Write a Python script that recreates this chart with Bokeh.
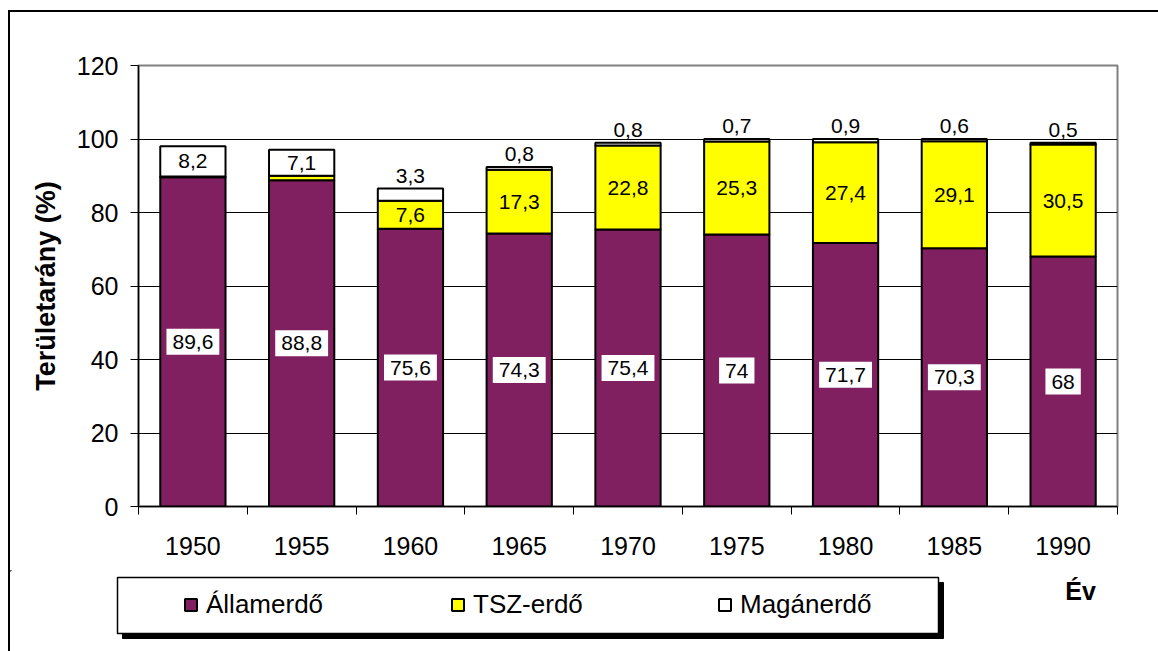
from bokeh.plotting import figure
from bokeh.layouts import column
from bokeh.models import (ColumnDataSource, FixedTicker, Legend, LegendItem, LabelSet,
                          Range1d)
from bokeh.core.properties import value
from bokeh.embed import file_html
from bokeh.resources import INLINE

# ---- data ----
years = ["1950", "1955", "1960", "1965", "1970", "1975", "1980", "1985", "1990"]
allam = [89.6, 88.8, 75.6, 74.3, 75.4, 74, 71.7, 70.3, 68]
tsz = [0.2, 1.2, 7.6, 17.3, 22.8, 25.3, 27.4, 29.1, 30.5]
magan = [8.2, 7.1, 3.3, 0.8, 0.8, 0.7, 0.9, 0.6, 0.5]
series_names = ["Államerdő", "TSZ-erdő", "Magánerdő"]
y_ticks = [0, 20, 40, 60, 80, 100, 120]

FONT = "Liberation Sans"
PURPLE = "#802060"
YELLOW = "#FFFF00"
WHITE = "#FFFFFF"
COLORS = [PURPLE, YELLOW, WHITE]


def fmt(v):
    return f"{v:g}".replace(".", ",")


x = [i + 0.5 for i in range(len(years))]
src = ColumnDataSource(dict(x=x, allam=allam, tsz=tsz, magan=magan))

# ---------------- main chart ----------------
p = figure(width=1148, height=558, output_backend="svg", toolbar_location=None,
           x_range=Range1d(0, len(years)), y_range=Range1d(0, 120),
           min_border_left=128, min_border_right=41, min_border_top=53,
           min_border_bottom=64)
p.frame_align = False
p.background_fill_color = "white"
p.border_fill_color = "white"
p.outline_line_color = "#808080"
p.outline_line_width = 2

renderers = p.vbar_stack(["allam", "tsz", "magan"], x="x", width=0.6, source=src,
                         fill_color=COLORS, line_color="black", line_width=2)

p.xaxis.ticker = FixedTicker(ticks=x, minor_ticks=list(range(len(years) + 1)))
p.xaxis.major_label_overrides = {xi: y for xi, y in zip(x, years)}
p.xaxis.major_tick_out = 0
p.xaxis.major_tick_in = 0
p.xaxis.minor_tick_out = 8
p.xaxis.minor_tick_in = 0
p.xaxis.minor_tick_line_color = "black"
p.xaxis.major_label_standoff = 22
p.xaxis.major_label_text_font = FONT
p.xaxis.major_label_text_font_size = "25px"
p.xaxis.major_label_text_color = "black"
p.xaxis.axis_line_color = "black"
p.xaxis.axis_line_width = 1.5

p.yaxis.ticker = FixedTicker(ticks=y_ticks)
p.yaxis.major_tick_out = 8
p.yaxis.major_tick_in = 0
p.yaxis.minor_tick_line_color = None
p.yaxis.major_label_standoff = 12
p.yaxis.major_label_text_font = FONT
p.yaxis.major_label_text_font_size = "25px"
p.yaxis.major_label_text_color = "black"
p.yaxis.axis_line_color = "black"
p.yaxis.axis_line_width = 1.5
p.yaxis.axis_label = "Területarány (%)"
p.yaxis.axis_label_text_font = FONT
p.yaxis.axis_label_text_font_size = "27px"
p.yaxis.axis_label_text_font_style = "bold"
p.yaxis.axis_label_text_color = "black"
p.yaxis.axis_label_standoff = 13

p.xgrid.grid_line_color = None
p.ygrid.ticker = FixedTicker(ticks=[t for t in y_ticks if 0 < t < 120])
p.ygrid.grid_line_color = "black"
p.ygrid.grid_line_width = 1

# data labels
a_src = ColumnDataSource(dict(x=x, y=[a / 2 for a in allam], t=[fmt(a) for a in allam]))
t_idx = [i for i, t in enumerate(tsz) if t >= 5]
t_src = ColumnDataSource(dict(x=[x[i] for i in t_idx],
                              y=[allam[i] + tsz[i] / 2 for i in t_idx],
                              t=[fmt(tsz[i]) for i in t_idx]))
m_in = [i for i, m in enumerate(magan) if m >= 5]
m_out = [i for i, m in enumerate(magan) if m < 5]
m_in_src = ColumnDataSource(dict(x=[x[i] for i in m_in],
                                 y=[allam[i] + tsz[i] + magan[i] / 2 for i in m_in],
                                 t=[fmt(magan[i]) for i in m_in]))
m_out_src = ColumnDataSource(dict(x=[x[i] for i in m_out],
                                  y=[allam[i] + tsz[i] + magan[i] for i in m_out],
                                  t=[fmt(magan[i]) for i in m_out]))

p.text(x="x", y="y", text="t", source=a_src, text_font=value(FONT),
       text_font_size="21px", text_color="black", text_align="center",
       text_baseline="middle", background_fill_color="white", padding=6)

common = dict(x="x", y="y", text="t", text_font=value(FONT), text_font_size="21px",
              text_color="black", text_align="center")
p.add_layout(LabelSet(source=t_src, text_baseline="middle", **common))
p.add_layout(LabelSet(source=m_in_src, text_baseline="middle", **common))
p.add_layout(LabelSet(source=m_out_src, text_baseline="alphabetic", y_offset=6, **common))

# ---------------- legend strip (pixel coordinates of the window) ----------------
q = figure(width=1148, height=81, output_backend="svg", toolbar_location=None,
           x_range=Range1d(10, 1158), y_range=Range1d(651, 570),
           x_axis_type=None, y_axis_type=None,
           min_border_left=0, min_border_right=0, min_border_top=0, min_border_bottom=0)
q.frame_align = False
q.outline_line_color = None
q.background_fill_color = "white"
q.border_fill_color = "white"
q.xgrid.visible = False
q.ygrid.visible = False

q.quad(left=[122], right=[943], top=[582], bottom=[638], fill_color="black",
       line_color="black")
q.quad(left=[117], right=[938], top=[577], bottom=[633], fill_color="white",
       line_color="black", line_width=1.5)

# legend-only renderers (their single bar lies outside the visible range)
legend_src = ColumnDataSource(dict(x=[0], top=[0], bottom=[0]))
dummies = [q.vbar(x="x", top="top", bottom="bottom", width=1, source=legend_src,
                  fill_color=c, line_color="black", line_width=2) for c in COLORS]

legend = Legend(items=[LegendItem(label=n, renderers=[r]) for n, r in zip(series_names, dummies)],
                orientation="horizontal", location=(173, 31),
                glyph_width=15, glyph_height=15, label_standoff=8, spacing=125,
                label_width=119, padding=0, margin=0,
                background_fill_alpha=0, border_line_alpha=0,
                label_text_font=FONT, label_text_font_size="26px", label_text_color="black")
q.add_layout(legend, "center")

q.text(x=[1080], y=[590], text=["Év"], text_font=value(FONT), text_font_size="25px",
       text_font_style="bold", text_color="black", text_align="center",
       text_baseline="middle")

layout = column(p, q, spacing=0)
layout.styles = {"margin-left": "8px", "margin-top": "10px",
                 "border-top": "2px solid black", "border-left": "2px solid black"}

open("out.html", "w").write(file_html(layout, INLINE))
